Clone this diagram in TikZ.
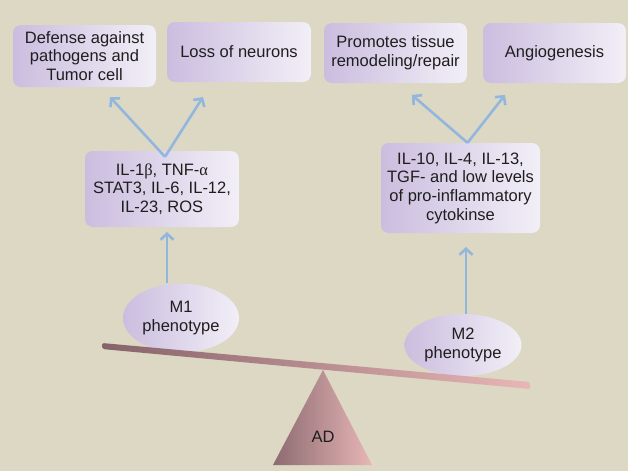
\documentclass[tikz,border=0pt]{standalone}
\usepackage{fontspec}
\setmainfont{Liberation Sans}
\newfontfamily\grk{Liberation Serif}
\usetikzlibrary{arrows.meta,shapes.geometric}
\definecolor{MyBack}{HTML}{DCD8C3}
\definecolor{MyLilac}{HTML}{CBBDDF}
\definecolor{MyPale}{HTML}{F2EFF7}
\definecolor{MyArrow}{HTML}{92B6DE}
\definecolor{MyBrown}{HTML}{86636A}
\definecolor{MyPink}{HTML}{E8B6B6}
\definecolor{MyText}{HTML}{1E1E1E}
\tikzset{
	cellbox/.style={rounded corners=8pt, left color=MyLilac, right color=MyPale, align=center, inner sep=0pt, text=MyText},
	pheno/.style={ellipse, left color=MyLilac, right color=MyPale, align=center, inner sep=0pt, text=MyText},
	arr/.style={MyArrow, line width=2.6pt, -{Straight Barb[length=6pt,width=13pt]}}
}

\begin{document}
\begin{tikzpicture}[x=1pt, y=-1pt, every node/.style={font=\fontsize{16.5}{18.7}\selectfont}]
%		\draw [step=10, gray, thin, opacity=0.5] (0,0) grid (628,471);
		
		\fill[MyBack] (0,0) rectangle (628,471);
		\useasboundingbox (0,0) rectangle (628,471);
		
		% top row
		\node[cellbox, minimum width=143pt, minimum height=62pt] (defense) at (84.5,56) {Defense against\\pathogens and\\Tumor cell};
		\node[cellbox, minimum width=144pt, minimum height=60pt] (loss) at (239,52) {Loss of neurons};
		\node[cellbox, minimum width=143pt, minimum height=60pt] (repair) at (395.5,53) {Promotes tissue\\remodeling/repair};
		\node[cellbox, minimum width=143pt, minimum height=60pt] (angio) at (554.5,53) {Angiogenesis};
		
		% cytokines
		\node[cellbox, minimum width=154pt, minimum height=76pt] (proinf) at (162,189) {IL-1{\grk β}, TNF-{\grk α}\\STAT3, IL-6, IL-12,\\IL-23, ROS};
		\node[cellbox, minimum width=159pt, minimum height=90pt] (antiinf) at (460.5,188) {IL-10, IL-4, IL-13,\\TGF- and low levels\\of pro-inflammatory\\cytokinse};
		
		% phenotypes
		\node[pheno, minimum width=116pt, minimum height=69pt] (mone) at (181,318) {M1\\phenotype};
		\node[pheno, minimum width=117pt, minimum height=62pt] (mtwo) at (463,345) {M2\\phenotype};
		
		\coordinate (tipA) at (110,97);
		\coordinate (tipB) at (203,97);
		\coordinate (tipC) at (412,95);
		\coordinate (tipD) at (505,95);
		\coordinate (upA) at (167,232);
		\coordinate (upB) at (466,247);
		
		\draw[arr] ([xshift=3pt, yshift=-6pt]proinf.north) -- (tipA);
		\draw[arr] ([xshift=3pt, yshift=-6pt]proinf.north) -- (tipB);
		\draw[arr] ([xshift=7pt]antiinf.north) -- (tipC);
		\draw[arr] ([xshift=7pt]antiinf.north) -- (tipD);
		
		\draw[arr] (upA |- mone.north) -- (upA);
		\draw[arr] (upB |- mtwo.north) -- (upB);
		
		% balance
		\shade[left color=MyBrown, right color=MyPink, rounded corners=2pt] (102,343) -- (530,382) -- (530,389) -- (102,349) -- cycle;
		\shade[left color=MyBrown!95, right color=MyPink] (323,370) -- (372,465) -- (273,465) -- cycle;
		\node[text=MyText] (ad) at (323,437) {AD};
		
	\end{tikzpicture}
\end{document}
